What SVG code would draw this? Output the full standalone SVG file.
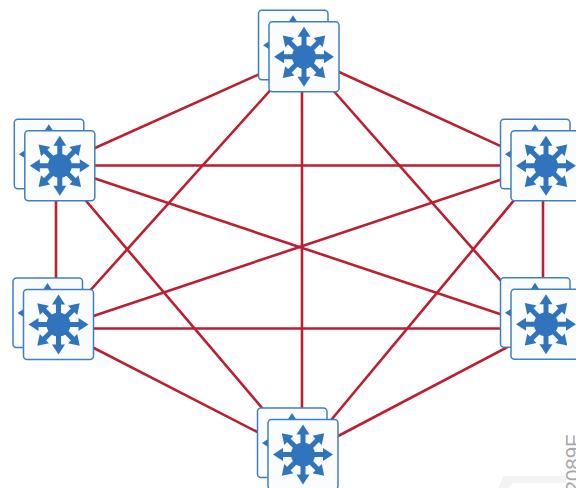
<svg xmlns="http://www.w3.org/2000/svg" width="576" height="488" viewBox="0 0 576 488">
<style>
.l{stroke:#bb1f30;stroke-width:2.6;fill:none}
.b{fill:#fafcfe;stroke:#3f80c4;stroke-width:1.5}
.a{stroke:#2f74bd;stroke-width:5;fill:none}
.h{fill:#2f74bd}
.wm{font-family:"Liberation Sans",Arial,sans-serif;font-size:20.500px;fill:#a8a8a8}
</style>
<defs>
<g id="icon">
<g class="a"><path d="M-22 0H22M0-22V22M-15.500-15.500L15.500 15.500M-15.500 15.500L15.500-15.500"/></g>
<circle class="h" r="12"/>
<g class="h">
<path id="t" d="M0-30L6.500-20H-6.500Z"/>
<use href="#t" transform="rotate(45)"/><use href="#t" transform="rotate(90)"/><use href="#t" transform="rotate(135)"/><use href="#t" transform="rotate(180)"/><use href="#t" transform="rotate(225)"/><use href="#t" transform="rotate(270)"/><use href="#t" transform="rotate(315)"/>
</g>
</g>
<g id="sw">
<rect class="b" x="-45.500" y="-46.500" width="69.500" height="69.500" rx="3.500"/>
<use href="#icon" transform="translate(-11 -11.500)"/>
<rect class="b" x="-35" y="-35" width="70" height="70" rx="3.500"/>
<use href="#icon"/>
</g>
</defs>
<g id="watermark">
<path d="M503.500 476H566V483H512L508 488H498Z" fill="#f3f3f3"/>
<text class="wm" transform="translate(580 492.500) rotate(-90)">2089F</text>
</g>
<g id="connectors" class="l">
<path d="M302 55L56 165.500M302 55L543 165.500M302 55L56 328.500M302 55L543 328.500M302 55V455"/>
<path d="M56 165.500H543M56 165.500V328.500M56 165.500L543 328.500M56 165.500L302 455"/>
<path d="M543 165.500V328.500M543 165.500L56 328.500M543 165.500L302 455"/>
<path d="M56 328.500H543M56 328.500L302 455M543 328.500L302 455"/>
</g>
<g id="node-top"><use href="#sw" transform="translate(304 56.700)"/></g>
<g id="node-left-upper"><use href="#sw" transform="translate(59.800 165.700)"/></g>
<g id="node-right-upper"><use href="#sw" transform="translate(546 165.700)"/></g>
<g id="node-left-lower"><use href="#sw" transform="translate(58.500 324.500)"/></g>
<g id="node-right-lower"><use href="#sw" transform="translate(546 324.200)"/></g>
<g id="node-bottom"><use href="#sw" transform="translate(303 454.500)"/></g>
</svg>
